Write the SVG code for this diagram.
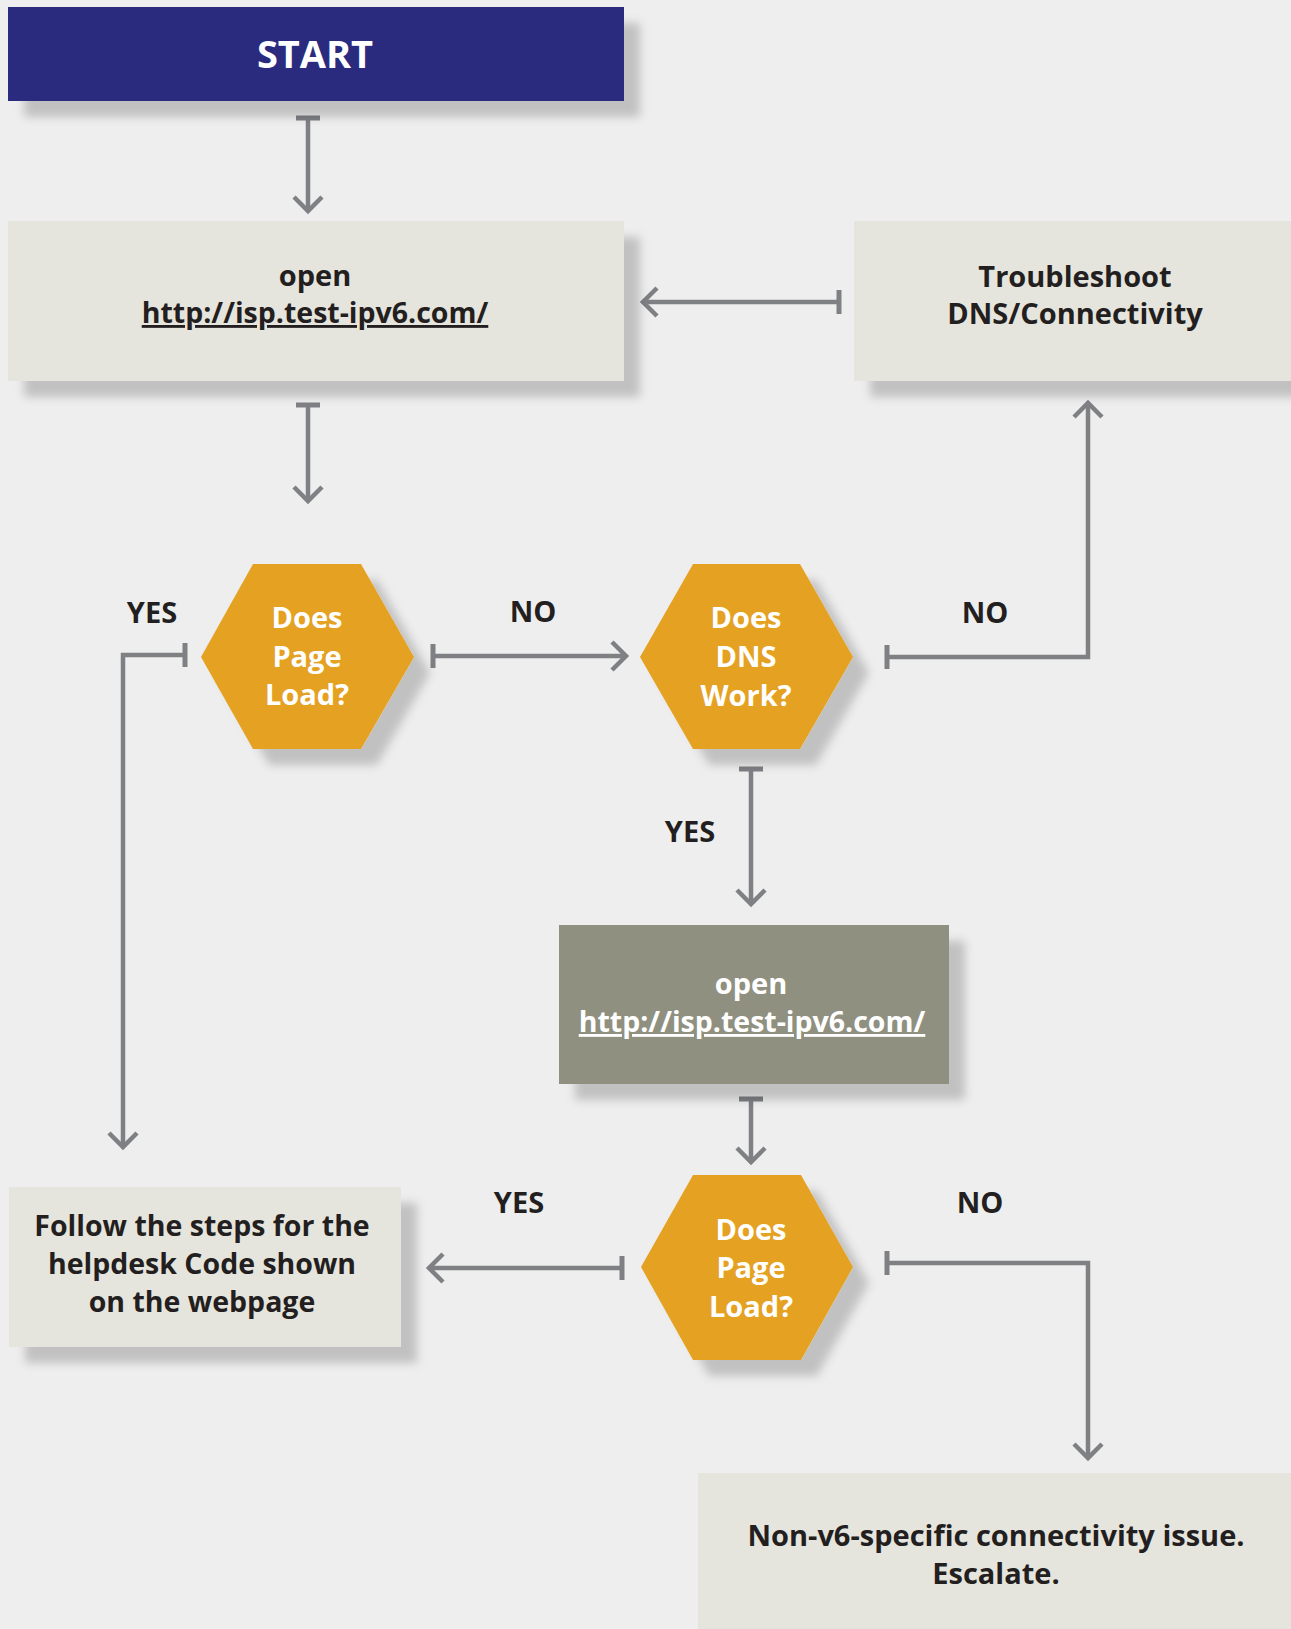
<svg xmlns="http://www.w3.org/2000/svg" width="1291" height="1629" viewBox="0 0 1291 1629">
  <defs>
    <filter id="sh" x="-10%" y="-10%" width="130%" height="140%">
      <feDropShadow dx="16" dy="16" stdDeviation="5" flood-color="#000" flood-opacity="0.19"/>
    </filter>
    <marker id="tbar" markerUnits="userSpaceOnUse" markerWidth="30" markerHeight="30" refX="0" refY="0" orient="auto" overflow="visible">
      <path d="M0,-12 L0,12" stroke="#7f8084" stroke-width="5" fill="none"/>
    </marker>
    <marker id="chev" markerUnits="userSpaceOnUse" markerWidth="30" markerHeight="30" refX="0" refY="0" orient="auto" overflow="visible">
      <path d="M-13,-14 L1,0 L-13,14" stroke="#7f8084" stroke-width="4.5" fill="none" stroke-linejoin="miter"/>
    </marker>
    <style>
      text { font-family: "Open Sans", "Liberation Sans", sans-serif; font-weight: 700; font-size: 29px; text-anchor: middle; }
      .dark { fill: #231f20; }
      .white { fill: #ffffff; }
      .light { fill: #e6e5dd; }
      .hex { fill: #e5a120; }
      .conn { fill: none; stroke: #7f8084; stroke-width: 4.5; marker-start: url(#tbar); marker-end: url(#chev); }
      .u { text-decoration: underline; font-size: 28.5px; }
      .n { font-size: 28.5px; }
    </style>
  </defs>
  <rect x="0" y="0" width="1291" height="1629" fill="#eeeeee"/>

  <g id="connectors">
    <path class="conn" d="M308,118 V210"/>
    <path class="conn" d="M839,302 H644"/>
    <path class="conn" d="M308,405 V500"/>
    <path class="conn" d="M433,656 H625"/>
    <path class="conn" d="M887,657 H1088 V404"/>
    <path class="conn" d="M185,655 H123 V1146"/>
    <path class="conn" d="M751,769 V903"/>
    <path class="conn" d="M751,1099 V1161"/>
    <path class="conn" d="M622,1268 H430"/>
    <path class="conn" d="M887,1263 H1088 V1457"/>
  </g>

  <g id="start">
    <rect x="8" y="7" width="616" height="94" fill="#2b2a7f" filter="url(#sh)"/>
    <text class="white" x="315" y="68" style="font-size:38px">START</text>
  </g>

  <g id="open1">
    <rect class="light" x="8" y="221" width="616" height="160" filter="url(#sh)"/>
    <text class="dark" x="315" y="286">open</text>
    <text class="dark u" x="315" y="323">http://isp.test-ipv6.com/</text>
  </g>

  <g id="troubleshoot">
    <rect class="light" x="854" y="221" width="460" height="160" filter="url(#sh)"/>
    <text class="dark" x="1075" y="287">Troubleshoot</text>
    <text class="dark" x="1075" y="324">DNS/Connectivity</text>
  </g>

  <g id="hex1">
    <polygon class="hex" points="253,564 361,564 414,657 361,749 253,749 201,657" filter="url(#sh)"/>
    <text class="white" x="307" y="628">Does</text>
    <text class="white" x="307" y="667">Page</text>
    <text class="white" x="307" y="705">Load?</text>
  </g>

  <g id="hex2">
    <polygon class="hex" points="693,564 800,564 853,657 800,749 693,749 640,657" filter="url(#sh)"/>
    <text class="white" x="746" y="628">Does</text>
    <text class="white" x="746" y="667">DNS</text>
    <text class="white" x="746" y="706">Work?</text>
  </g>

  <g id="open2">
    <rect x="559" y="925" width="390" height="159" fill="#909080" filter="url(#sh)"/>
    <text class="white" x="751" y="994">open</text>
    <text class="white u" x="752" y="1032">http://isp.test-ipv6.com/</text>
  </g>

  <g id="hex3">
    <polygon class="hex" points="693,1175 801,1175 853,1267 801,1360 693,1360 641,1267" filter="url(#sh)"/>
    <text class="white" x="751" y="1240">Does</text>
    <text class="white" x="751" y="1278">Page</text>
    <text class="white" x="751" y="1317">Load?</text>
  </g>

  <g id="follow">
    <rect class="light" x="9" y="1187" width="392" height="160" filter="url(#sh)"/>
    <text class="dark n" x="202" y="1236">Follow the steps for the</text>
    <text class="dark n" x="202" y="1274">helpdesk Code shown</text>
    <text class="dark n" x="202" y="1312">on the webpage</text>
  </g>

  <g id="escalate">
    <rect class="light" x="698" y="1473" width="620" height="180" filter="url(#sh)"/>
    <text class="dark" x="996" y="1546">Non-v6-specific connectivity issue.</text>
    <text class="dark" x="996" y="1584">Escalate.</text>
  </g>

  <g id="labels">
    <text class="dark" x="152" y="623">YES</text>
    <text class="dark" x="533" y="622">NO</text>
    <text class="dark" x="985" y="623">NO</text>
    <text class="dark" x="690" y="842">YES</text>
    <text class="dark" x="519" y="1213">YES</text>
    <text class="dark" x="980" y="1213">NO</text>
  </g>
</svg>
